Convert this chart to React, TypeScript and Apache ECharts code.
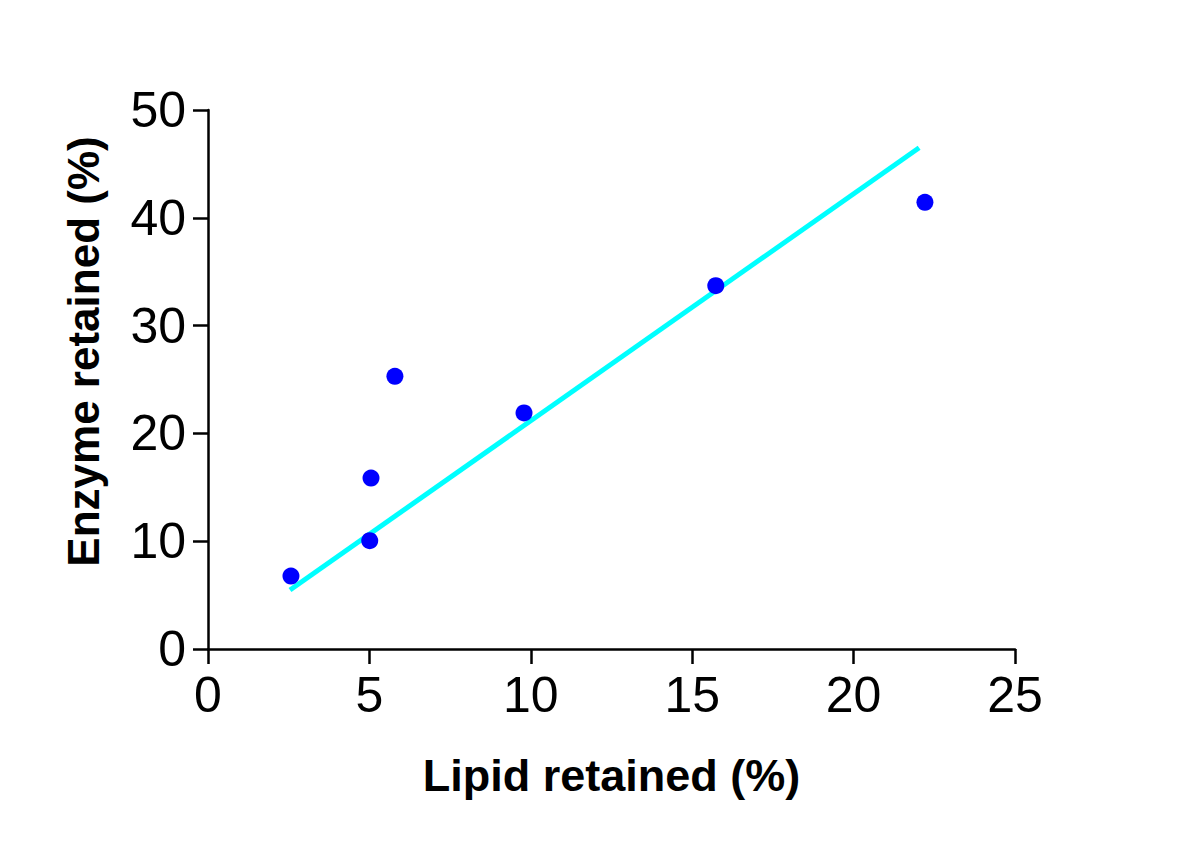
import React, { useEffect, useRef } from "react";
import * as echarts from "echarts";

const lipid = [2.57, 5.01, 5.05, 5.79, 9.79, 15.73, 22.21];
const enzyme = [6.77, 10.05, 15.86, 25.3, 21.9, 33.7, 41.44];
const fitX = [2.54, 22.03];
const fitY = [5.47, 46.5];
const xTitle = "Lipid retained (%)";
const yTitle = "Enzyme retained (%)";

export default function App() {
  const ref = useRef<HTMLDivElement>(null);
  useEffect(() => {
    document.body.style.margin = "0";
    const chart = echarts.init(ref.current!, null, { renderer: "svg" });
    const font = "'Liberation Sans', Arial, sans-serif";
    chart.setOption({
      animation: false,
      backgroundColor: "#fff",
      grid: { left: 208, right: 185, top: 110, bottom: 213 },
      xAxis: {
        type: "value",
        min: 0,
        max: 25,
        interval: 5,
        name: xTitle,
        nameLocation: "middle",
        nameGap: 104,
        nameTextStyle: { fontFamily: font, fontSize: 45, fontWeight: "bold", color: "#000" },
        axisLine: { lineStyle: { color: "#000", width: 2.5 } },
        axisTick: { show: true, length: 15, lineStyle: { color: "#000", width: 2.5 } },
        axisLabel: { fontFamily: font, fontSize: 50, color: "#000", margin: 21 },
        splitLine: { show: false },
      },
      yAxis: {
        type: "value",
        min: 0,
        max: 50,
        interval: 10,
        name: yTitle,
        nameLocation: "middle",
        nameGap: 103,
        nameTextStyle: {
          fontFamily: font,
          fontSize: 44,
          fontWeight: "bold",
          color: "#000",
          padding: [0, 0, 0, 56],
        },
        axisLine: { lineStyle: { color: "#000", width: 2.5 } },
        axisTick: { show: true, length: 15, lineStyle: { color: "#000", width: 2.5 } },
        axisLabel: { fontFamily: font, fontSize: 50, color: "#000", margin: 22 },
        splitLine: { show: false },
      },
      series: [
        {
          type: "line",
          data: fitX.map((x, i) => [x, fitY[i]]),
          symbol: "none",
          lineStyle: { color: "#00ffff", width: 5 },
          z: 1,
        },
        {
          type: "scatter",
          data: lipid.map((x, i) => [x, enzyme[i]]),
          symbol: "circle",
          symbolSize: 17,
          itemStyle: { color: "#0000ff", opacity: 1 },
          z: 2,
        },
      ],
    });
    return () => chart.dispose();
  }, []);
  return <div ref={ref} style={{ width: 1200, height: 862 }} />;
}
